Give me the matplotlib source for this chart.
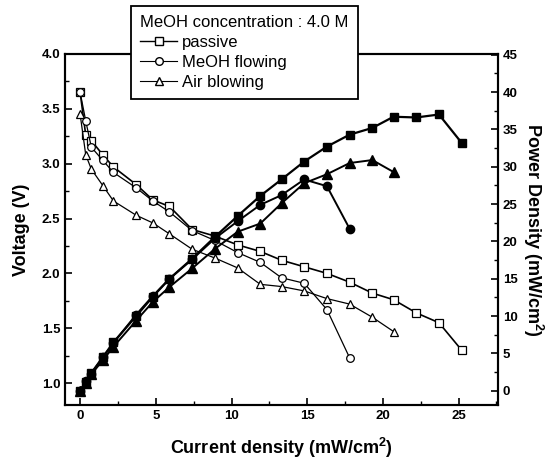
import matplotlib
matplotlib.use('Agg')
import matplotlib.pyplot as plt
from matplotlib.lines import Line2D
from matplotlib.ticker import MultipleLocator

plt.rcParams['font.family'] = ['Liberation Sans', 'DejaVu Sans']
plt.rcParams['mathtext.fontset'] = 'custom'
plt.rcParams['mathtext.bf'] = 'Liberation Sans:bold'
plt.rcParams['mathtext.rm'] = 'Liberation Sans:bold'

# 数据
cur_passive = [0, 0.37, 0.74, 1.5, 2.2, 3.7, 4.8, 5.9, 7.4, 8.9, 10.4, 11.9, 13.3,
               14.8, 16.3, 17.8, 19.3, 20.7, 22.2, 23.7, 25.2]
v_passive = [3.65, 3.26, 3.21, 3.08, 2.97, 2.81, 2.67, 2.61, 2.40, 2.34, 2.26, 2.20,
             2.12, 2.06, 2.00, 1.92, 1.82, 1.76, 1.64, 1.55, 1.30]
p_passive = [0, 1.2, 2.4, 4.5, 6.5, 10.0, 12.6, 15.0, 17.7, 20.6, 23.4, 26.1, 28.3,
             30.7, 32.7, 34.3, 35.2, 36.7, 36.6, 37.0, 33.2]

cur_flow = [0, 0.37, 0.74, 1.5, 2.2, 3.7, 4.8, 5.9, 7.4, 8.9, 10.4, 11.9, 13.3,
            14.8, 16.3, 17.8]
v_flow = [3.65, 3.39, 3.15, 3.03, 2.92, 2.78, 2.66, 2.56, 2.39, 2.30, 2.19, 2.10,
          1.96, 1.91, 1.67, 1.23]
p_flow = [0, 1.25, 2.3, 4.5, 6.4, 10.2, 12.7, 15.0, 17.6, 20.4, 22.7, 24.9, 26.2,
          28.3, 27.4, 21.7]

cur_air = [0, 0.37, 0.74, 1.5, 2.2, 3.7, 4.8, 5.9, 7.4, 8.9, 10.4, 11.9, 13.3,
           14.8, 16.3, 17.8, 19.3, 20.7]
v_air = [3.45, 3.08, 2.95, 2.80, 2.66, 2.53, 2.46, 2.36, 2.22, 2.14, 2.05, 1.90,
         1.88, 1.84, 1.77, 1.72, 1.60, 1.47]
p_air = [0, 1.1, 2.2, 4.1, 5.9, 9.4, 11.9, 13.9, 16.4, 19.0, 21.3, 22.4, 25.1,
         27.8, 29.0, 30.5, 30.9, 29.3]

fig = plt.figure(figsize=(5.52, 4.66), dpi=100)
ax = fig.add_axes([65 / 552, 1 - 405 / 466, 433 / 552, 351 / 466])
ax2 = ax.twinx()

# 电压曲线（空心标记）
ax.plot(cur_passive, v_passive, color='black', lw=1.2, marker='s', ms=5.5,
        mfc='white', mec='black', mew=0.9, zorder=3)
ax.plot(cur_flow, v_flow, color='black', lw=0.9, marker='o', ms=5.5,
        mfc='white', mec='black', mew=0.9, zorder=3)
ax.plot(cur_air, v_air, color='black', lw=0.9, marker='^', ms=6,
        mfc='white', mec='black', mew=0.9, zorder=3)

# 功率密度曲线（实心标记）
ax2.plot(cur_passive, p_passive, color='black', lw=1.6, marker='s', ms=6,
         mfc='black', mec='black')
ax2.plot(cur_flow, p_flow, color='black', lw=1.4, marker='o', ms=6,
         mfc='black', mec='black')
ax2.plot(cur_air, p_air, color='black', lw=1.4, marker='^', ms=7,
         mfc='black', mec='black')

ax.set_xlim(-1.0, 27.6)
ax.set_ylim(0.8, 4.0)
ax2.set_ylim(-1.9, 45.1)

ax.xaxis.set_major_locator(MultipleLocator(5))
ax.xaxis.set_minor_locator(MultipleLocator(2.5))
ax.yaxis.set_major_locator(MultipleLocator(0.5))
ax.yaxis.set_minor_locator(MultipleLocator(0.25))
ax2.yaxis.set_major_locator(MultipleLocator(5))
ax2.yaxis.set_minor_locator(MultipleLocator(2.5))

for a in (ax, ax2):
    for s in a.spines.values():
        s.set_linewidth(1.5)
    a.tick_params(which='major', direction='in', length=5, width=1.2,
                  labelsize=9.5)
    a.tick_params(which='minor', direction='in', length=3, width=1.0)
    for lab in a.get_xticklabels() + a.get_yticklabels():
        lab.set_fontweight('bold')

ax.set_yticklabels([f'{t:.1f}' for t in ax.get_yticks()], fontweight='bold')

ax.set_xlabel('Current density (mW/cm$^\\mathbf{2}$)', fontsize=13,
              fontweight='bold', labelpad=10)
ax.set_ylabel('Voltage (V)', fontsize=13, fontweight='bold', labelpad=8)
ax2.set_ylabel('Power Density (mW/cm$^\\mathbf{2}$)', fontsize=13,
               fontweight='bold', rotation=270, labelpad=20)

# 图例
handles = [
    Line2D([], [], color='black', lw=1.0, marker='s', ms=5.5, mfc='white', mec='black'),
    Line2D([], [], color='black', lw=0.8, marker='o', ms=5.5, mfc='white', mec='black'),
    Line2D([], [], color='black', lw=0.8, marker='^', ms=6, mfc='white', mec='black'),
]
leg = fig.legend(handles, ['passive', 'MeOH flowing', 'Air blowing'],
                 title='MeOH concentration : 4.0 M', loc='upper left',
                 bbox_to_anchor=(131 / 552, 1 - 6 / 466), borderaxespad=0,
                 fontsize=12, title_fontsize=12, frameon=True, fancybox=False,
                 edgecolor='black', framealpha=1, handlelength=2.2,
                 handletextpad=0.3, labelspacing=0.3, borderpad=0.55,
                 alignment='left')
leg.get_frame().set_linewidth(1.3)

fig.savefig('out.png', dpi=100)
